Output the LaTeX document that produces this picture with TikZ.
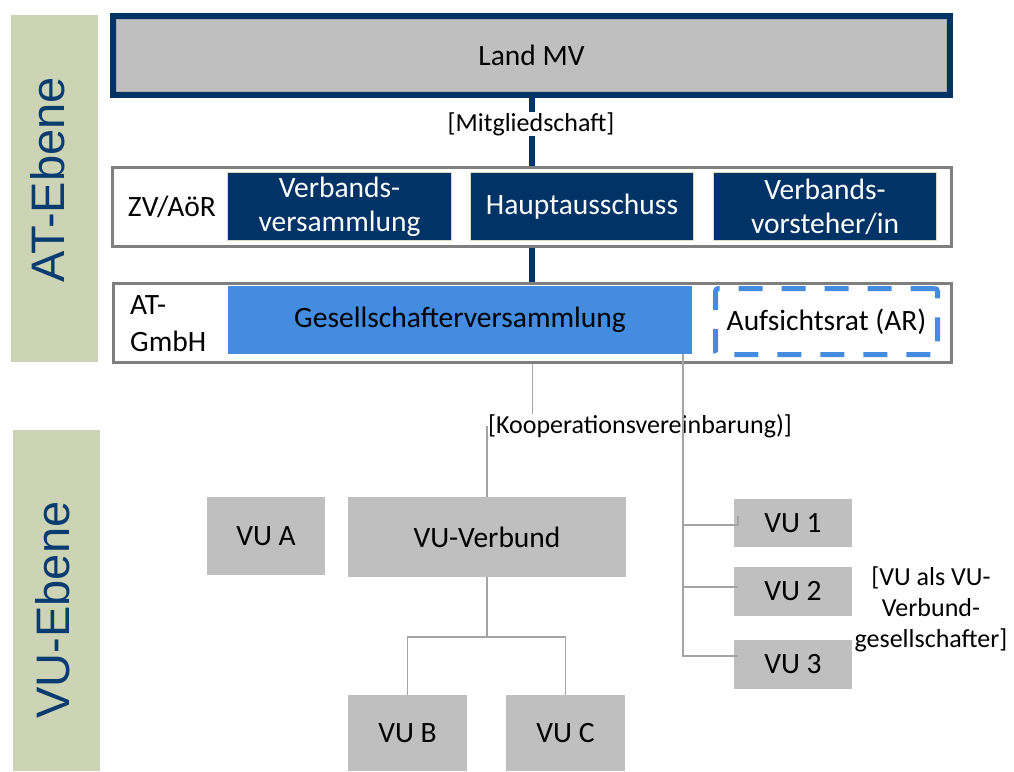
\documentclass[tikz,border=0pt]{standalone}
\usepackage{fontspec}
\setmainfont{Carlito}
\newfontfamily\levelfont{Liberation Sans}
\usetikzlibrary{calc}
\definecolor{cNavy}{RGB}{0,51,102}
\definecolor{cLevel}{RGB}{205,212,181}
\definecolor{cLevelText}{RGB}{10,60,112}
\definecolor{cBoxGray}{RGB}{191,191,191}
\definecolor{cOuter}{RGB}{127,127,127}
\definecolor{cBlue}{RGB}{68,140,224}
\definecolor{cConn}{RGB}{165,165,165}
\definecolor{cNavyBd}{RGB}{214,220,192}
\definecolor{cInner}{RGB}{170,170,170}
\begin{document}
\begin{tikzpicture}[x=1pt,y=-1pt,
  bigtext/.style={font=\fontsize{29.5}{34}\selectfont},
  smalltext/.style={font=\fontsize{26}{31}\selectfont},
  levelbox/.style={fill=cLevel, draw=none, inner sep=0pt},
  leveltext/.style={rotate=90, inner sep=0pt, text=cLevelText, font=\levelfont\fontsize{47}{50}\selectfont},
  landbox/.style={fill=cBoxGray, draw=cNavy, line width=6pt, inner sep=0pt, bigtext},
  outerbox/.style={fill=white, draw=cOuter, line width=2.5pt, inner sep=0pt},
  navybox/.style={fill=cNavy, draw=cNavyBd, line width=1.5pt, text=white, align=center, inner sep=0pt, bigtext},
  bluebox/.style={fill=cBlue, draw=none, inner sep=0pt, bigtext},
  dashbox/.style={fill=white, draw=cBlue, line width=5pt, dash pattern=on 24pt off 19pt, rounded corners=3pt, inner sep=0pt, bigtext},
  vubox/.style={fill=cBoxGray, draw=none, inner sep=0pt, bigtext},
  navyconn/.style={draw=cNavy, line width=6pt},
  grayconn/.style={draw=cConn, line width=1.5pt},
  lbl/.style={fill=white, inner sep=0pt, smalltext}
]
\useasboundingbox (0,0) rectangle (1014,771);

% level bands
\node[levelbox, minimum width=87pt, minimum height=347pt] (atband) at (54.5,188.5) {};
\node[leveltext] (attext) at (47.5,180) {AT-Ebene};
\node[levelbox, minimum width=87pt, minimum height=341pt] (vuband) at (56.5,600.5) {};
\node[leveltext] (vutext) at (53,610) {VU-Ebene};

% Land MV
\node[landbox, minimum width=837pt, minimum height=79pt] (land) at (531.5,55.5) {Land MV};
\draw[cInner, line width=1pt] ($(land.south west)+(6.5,-6.5)$) rectangle ($(land.north east)+(-6.5,6.5)$);

% ZV/AoR
\node[outerbox, minimum width=839pt, minimum height=79pt] (zv) at (532,207) {};
\node[bigtext, inner sep=0pt] (zvtext) at (172,207) {ZV/AöR};
\node[navybox, minimum width=224pt, minimum height=68pt] (vv) at (339.5,206.5) {Verbands-\\versammlung};
\node[navybox, minimum width=223pt, minimum height=68pt] (ha) at (582,206.5) {Hauptausschuss};
\node[navybox, minimum width=223pt, minimum height=68pt] (vs) at (825,206.5) {Verbands-\\vorsteher/in};

% AT-GmbH
\node[outerbox, minimum width=838pt, minimum height=79pt] (atg) at (532.5,323) {};
\node[font=\fontsize{29.5}{37}\selectfont, align=left, inner sep=0pt, anchor=west] (atgtext) at (130,323.5) {AT-\\GmbH};
\node[bluebox, minimum width=464pt, minimum height=68pt] (gv) at (460,320) {Gesellschafterversammlung};
\node[dashbox, minimum width=222pt, minimum height=66pt] (ar) at (826.5,321.5) {Aufsichtsrat (AR)};

% navy connectors
\draw[navyconn] (land.south) -- (land.south |- zv.north);
\node[lbl] (mitg) at (531,124) {[Mitgliedschaft]};
\draw[navyconn] (zv.south) -- (zv.south |- atg.north);

% VU boxes
\node[vubox, minimum width=118pt, minimum height=78pt] (vua) at (266,536) {VU A};
\node[vubox, minimum width=278pt, minimum height=80pt] (verbund) at (487,537) {VU-Verbund};
\node[vubox, minimum width=118pt, minimum height=48pt] (vu1) at (793,523) {VU 1};
\node[vubox, minimum width=118pt, minimum height=49pt] (vu2) at (793,591.5) {VU 2};
\node[vubox, minimum width=118pt, minimum height=49pt] (vu3) at (793,664.5) {VU 3};
\node[vubox, minimum width=119pt, minimum height=76pt] (vub) at (407.5,733) {VU B};
\node[vubox, minimum width=119pt, minimum height=76pt] (vuc) at (565.5,733) {VU C};

% gray connectors
\draw[grayconn] (atg.south) -- ++(0,63) -| (verbund.north);
\node[lbl] (koop) at (640,426) {[Kooperationsvereinbarung)]};
\coordinate (gvout) at ($(gv.south west)+(455,0)$);
\draw[grayconn] (gvout) |- ($(vu3.west)+(4,-8.5)$);
\draw[grayconn] (gvout |- vu2.west) ++(0,-4.5) -- ($(vu2.west)+(4,-4.5)$);
\draw[grayconn] (gvout |- vu1.west) ++(0,2) -- ($(vu1.west)+(4,2)$) -- ($(vu1.west)+(4,-7)$);
\draw[grayconn] (verbund.south) -- ++(0,60) -| (vub.north);
\draw[grayconn] (verbund.south) -- ++(0,60) -| (vuc.north);

\node[smalltext, align=center, inner sep=0pt] (vuals) at (931,609) {[VU als VU-\\Verbund-\\gesellschafter]};
\end{tikzpicture}
\end{document}
